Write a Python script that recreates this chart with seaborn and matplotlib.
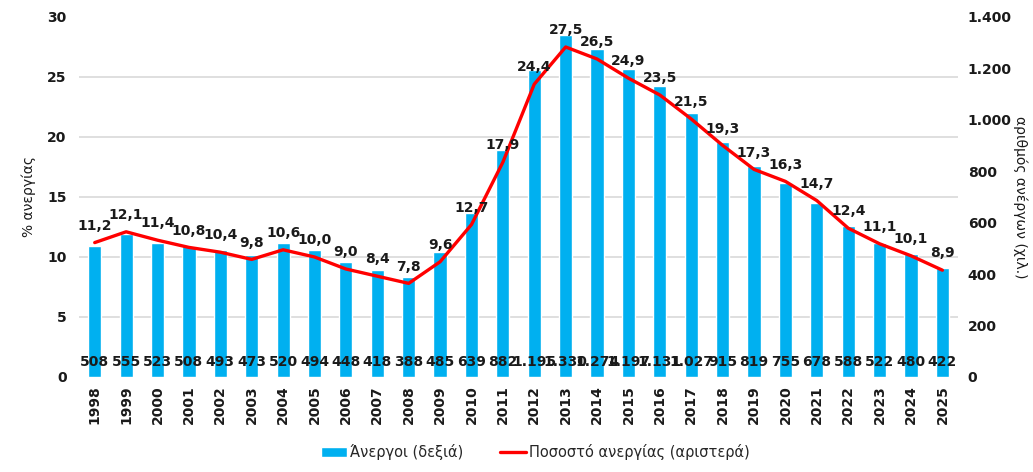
import numpy as np
import pandas as pd
import matplotlib.pyplot as plt
import matplotlib.transforms as mtransforms
from matplotlib.ticker import MultipleLocator, FuncFormatter
from matplotlib.patches import Patch
from matplotlib.lines import Line2D
import seaborn as sns

# Data
years = [str(y) for y in range(1998, 2026)]
unemployed = [508, 555, 523, 508, 493, 473, 520, 494, 448, 418, 388, 485, 639, 882,
              1195, 1330, 1274, 1197, 1131, 1027, 915, 819, 755, 678, 588, 522, 480, 422]
rate = [11.2, 12.1, 11.4, 10.8, 10.4, 9.8, 10.6, 10.0, 9.0, 8.4, 7.8, 9.6, 12.7, 17.9,
        24.4, 27.5, 26.5, 24.9, 23.5, 21.5, 19.3, 17.3, 16.3, 14.7, 12.4, 11.1, 10.1, 8.9]

df = pd.DataFrame({'Έτος': years, 'Άνεργοι': unemployed, 'Ποσοστό': rate})
df['pos'] = np.arange(len(df))

sns.set_style("white")
plt.rcParams['font.family'] = ['DejaVu Sans']
plt.rcParams['font.weight'] = 'bold'

blue = "#00B0F0"
red = "#FF0000"
fs = 10
txt = '#1a1a1a'

fig = plt.figure(figsize=(10.33, 4.72), dpi=100)
ax = fig.add_axes([0.0765, 0.2013, 0.851, 0.7627])
ax2 = ax.twinx()  # line axis (left scale); bars stay on host (right scale)

# bars
sns.barplot(data=df, x='Έτος', y='Άνεργοι', color=blue, width=0.42,
            saturation=1, ax=ax, zorder=2)
ax.set_xlim(-0.5, len(years) - 0.5)
ax.set_ylim(0, 1400)
ax.yaxis.set_major_locator(MultipleLocator(200))
ax.yaxis.set_minor_locator(MultipleLocator(1400 / 6))
ax.yaxis.set_major_formatter(FuncFormatter(lambda v, p: f"{int(v):,}".replace(',', '.')))
ax.grid(which='minor', axis='y', color='#d9d9d9', lw=1.2, zorder=0)
ax.set_axisbelow(True)
ax.set_xlabel('')
ax.set_ylabel('')
for s in ax.spines.values():
    s.set_visible(False)

# bar labels at the bottom of the bars
trans = mtransforms.blended_transform_factory(ax.transData, ax.transAxes)
for p, v in zip(ax.patches, unemployed):
    ax.text(p.get_x() + p.get_width() / 2, 0.042, f"{v:,}".replace(',', '.'),
            transform=trans, ha='center', va='center', fontsize=fs, color=txt, zorder=3)

# line
sns.lineplot(data=df, x='pos', y='Ποσοστό', color=red, lw=2.4, ax=ax2)
ax2.set_ylim(0, 30)
ax2.yaxis.set_major_locator(MultipleLocator(5))
ax2.set_xlabel('')
ax2.set_ylabel('')
for s in ax2.spines.values():
    s.set_visible(False)

for i, v in zip(df['pos'], rate):
    ax2.annotate(f"{v:.1f}".replace('.', ','), (i, v), xytext=(0, 7),
                 textcoords='offset points', ha='center', va='bottom',
                 fontsize=fs, color=txt)

# axis sides: rate on left, count on right
ax.yaxis.tick_right()
ax.yaxis.set_label_position('right')
ax2.yaxis.tick_left()
ax2.yaxis.set_label_position('left')
ax.tick_params(axis='y', which='both', length=0, labelsize=fs, pad=7, labelcolor=txt,
               labelright=True, labelleft=False)
ax.tick_params(axis='x', length=0, labelsize=fs, rotation=90, pad=6, labelcolor=txt)
ax2.tick_params(axis='y', length=0, labelsize=fs, pad=9, labelcolor=txt,
                labelleft=True, labelright=False)
ax.set_ylabel('αριθμός ανέργων (χιλ.)', rotation=270, fontsize=fs, labelpad=11,
              color=txt, fontweight='normal')
ax2.set_ylabel('% ανεργίας', fontsize=fs, labelpad=8, color=txt, fontweight='normal')

handles = [Patch(facecolor=blue, label='Άνεργοι (δεξιά)'),
           Line2D([0], [0], color=red, lw=2.4, label='Ποσοστό ανεργίας (αριστερά)')]
fig.legend(handles=handles, loc='center', bbox_to_anchor=(0.518, 0.042), ncol=2,
           frameon=False, handlelength=1.8, handletextpad=0.2, columnspacing=2.5,
           prop={'size': fs + 0.5, 'weight': 'normal'})

fig.savefig('out.png', dpi=100)
